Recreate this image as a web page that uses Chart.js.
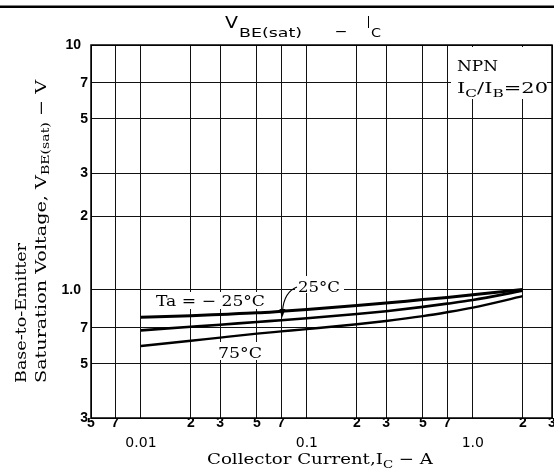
<!DOCTYPE html>
<html><head><meta charset="utf-8">
<script src="https://cdn.jsdelivr.net/npm/chart.js@4/dist/chart.umd.min.js"></script>
<style>html,body{margin:0;padding:0;background:#fff;}#wrap{width:554px;height:470px;}</style>
</head><body><div id="wrap"><canvas id="c" width="554" height="470"></canvas></div>
<script>
// ---- data ----
const currentA = [0.01, 0.02, 0.03, 0.05, 0.07, 0.1, 0.2, 0.3, 0.5, 0.7, 1.0, 2.0];
const vbeTaMinus25 = [0.774, 0.785, 0.794, 0.806, 0.818, 0.832, 0.863, 0.884, 0.913, 0.932, 0.955, 1.005];
const vbeTa25 = [0.684, 0.707, 0.721, 0.740, 0.752, 0.766, 0.797, 0.819, 0.853, 0.879, 0.910, 0.993];
const vbeTa75 = [0.590, 0.620, 0.639, 0.663, 0.677, 0.692, 0.724, 0.747, 0.782, 0.811, 0.847, 0.943];
const seriesNames = ['Ta = −25°C', '25°C', '75°C'];
const xTickValues = [0.005, 0.007, 0.01, 0.02, 0.03, 0.05, 0.07, 0.1, 0.2, 0.3, 0.5, 0.7, 1, 2, 3];
const xTickLabels = ['5', '7', ['', '', '0.01'], '2', '3', '5', '7', ['', '', '0.1'], '2', '3', '5', '7', ['', '', '1.0'], '2', '3'];
const yTickValues = [0.3, 0.5, 0.7, 1, 2, 3, 5, 7, 10];
const yTickLabels = ['3', '5', '7', '1.0\u2002', '2', '3', '5', '7', '10\u2002'];

const SERIF = '"DejaVu Serif", "Liberation Serif", serif';
const SANS = '"DejaVu Sans", "Liberation Sans", sans-serif';

function toPoints(ys) { return currentA.map((x, i) => ({ x: x, y: ys[i] })); }

function drawRich(ctx, segs, x, y, targetW) {
  let w = 0;
  for (const s of segs) { ctx.font = s.font; w += ctx.measureText(s.t).width; }
  const sx = targetW ? targetW / w : 1;
  ctx.save();
  ctx.translate(x, y); ctx.scale(sx, 1);
  ctx.textAlign = 'left'; ctx.textBaseline = 'alphabetic'; ctx.fillStyle = '#000';
  let cx = 0;
  for (const s of segs) { ctx.font = s.font; ctx.fillText(s.t, cx, s.dy || 0); cx += ctx.measureText(s.t).width; }
  ctx.restore();
}

const annot = {
  id: 'annot',
  beforeDraw(chart) {
    const ctx = chart.ctx;
    ctx.save(); ctx.fillStyle = '#fff'; ctx.fillRect(0, 0, chart.width, chart.height);
    ctx.fillStyle = '#000'; ctx.fillRect(0, 5.5, chart.width, 2.5);
    ctx.restore();
    // title
    drawRich(ctx, [{ t: 'V', font: '15px ' + SANS }], 225, 28, 13);
    drawRich(ctx, [{ t: 'BE(sat)', font: '12px ' + SANS }], 239, 37, 63);
    drawRich(ctx, [{ t: '–', font: '15px ' + SANS }], 335, 36, 12);
    drawRich(ctx, [{ t: 'I', font: '15px ' + SANS }], 367, 28, 3);
    drawRich(ctx, [{ t: 'C', font: '12px ' + SANS }], 371, 37, 10);
    // y title
    ctx.save(); ctx.translate(26, 383); ctx.rotate(-Math.PI / 2);
    drawRich(ctx, [{ t: 'Base-to-Emitter', font: '15px ' + SERIF }], 0, 0, 140);
    ctx.restore();
    ctx.save(); ctx.translate(46, 383); ctx.rotate(-Math.PI / 2);
    drawRich(ctx, [{ t: 'Saturation Voltage, V', font: '15px ' + SERIF }, { t: 'BE(sat)', font: '11px ' + SERIF, dy: 3 }, { t: ' − V', font: '15px ' + SERIF }], 0, 0, 303);
    ctx.restore();
    // x title
    drawRich(ctx, [{ t: 'Collector Current,I', font: '15px ' + SERIF }, { t: 'C', font: '11px ' + SERIF, dy: 4 }, { t: ' − A', font: '15px ' + SERIF }], 207, 464, 226);
  },
  beforeDatasetsDraw(chart) {
    const ctx = chart.ctx;
    ctx.save(); ctx.fillStyle = '#fff';
    ctx.fillRect(152, 292, 116, 17);
    ctx.fillRect(295, 276, 49, 17);
    ctx.fillRect(215, 342, 50, 18);
    ctx.fillRect(451, 47, 96, 52);
    ctx.restore();
    drawRich(ctx, [{ t: 'Ta = − 25°C', font: '15px ' + SERIF }], 156, 306, 109);
    drawRich(ctx, [{ t: '25°C', font: '15px ' + SERIF }], 298, 292, 42);
    drawRich(ctx, [{ t: '75°C', font: '15px ' + SERIF }], 218, 358, 44);
    drawRich(ctx, [{ t: 'NPN', font: '15px ' + SERIF }], 457, 71, 41);
    drawRich(ctx, [{ t: 'I', font: '15px ' + SERIF }, { t: 'C', font: '11px ' + SERIF, dy: 4 }, { t: '/I', font: '15px ' + SERIF }, { t: 'B', font: '11px ' + SERIF, dy: 4 }, { t: '=20', font: '15px ' + SERIF }], 457, 93, 91);
  },
  afterDatasetsDraw(chart) {
    const ctx = chart.ctx, a = chart.chartArea;
    ctx.save();
    ctx.strokeStyle = '#000'; ctx.lineWidth = 1.5;
    ctx.strokeRect(a.left, a.top, a.right - a.left, a.bottom - a.top);
    // arrow
    ctx.lineWidth = 1.2;
    ctx.beginPath(); ctx.moveTo(297, 287); ctx.quadraticCurveTo(284, 292, 282.5, 311); ctx.stroke();
    ctx.fillStyle = '#000';
    ctx.beginPath(); ctx.moveTo(279.5, 309); ctx.lineTo(285.5, 309); ctx.lineTo(282, 318); ctx.closePath(); ctx.fill();
    ctx.restore();
  }
};

new Chart(document.getElementById('c'), {
  type: 'line',
  data: {
    datasets: [
      { label: seriesNames[0], data: toPoints(vbeTaMinus25), borderWidth: 3 },
      { label: seriesNames[1], data: toPoints(vbeTa25), borderWidth: 2.6 },
      { label: seriesNames[2], data: toPoints(vbeTa75), borderWidth: 2.4 }
    ].map(d => Object.assign(d, { borderColor: '#000', backgroundColor: '#000', pointRadius: 0, tension: 0.4, cubicInterpolationMode: 'monotone', fill: false }))
  },
  options: {
    responsive: false, animation: false, devicePixelRatio: 1,
    layout: { padding: { top: 45, right: 2, left: 0, bottom: 0 } },
    plugins: { legend: { display: false }, title: { display: false }, tooltip: { enabled: false } },
    scales: {
      x: {
        type: 'logarithmic', min: 0.005, max: 3,
        afterBuildTicks: s => { s.ticks = xTickValues.map(v => ({ value: v })); },
        afterFit: s => { s.height = 52; s.paddingLeft = 0; s.paddingRight = 0; },
        grid: { color: '#111', lineWidth: 1, drawTicks: false },
        border: { display: false },
        ticks: {
          autoSkip: false, maxRotation: 0, minRotation: 0, padding: 0, color: '#000',
          callback: (v, i) => xTickLabels[i],
          font: c => (Array.isArray(xTickLabels[c.index])
            ? { family: '"DejaVu Sans", sans-serif', size: 14, weight: 'normal', lineHeight: '10px' }
            : { family: '"Liberation Sans", Arial, sans-serif', size: 14, weight: 'bold', lineHeight: '10px' })
        }
      },
      y: {
        type: 'logarithmic', min: 0.3, max: 10,
        afterBuildTicks: s => { s.ticks = yTickValues.map(v => ({ value: v })); },
        afterFit: s => { s.width = 91; s.paddingTop = 0; s.paddingBottom = 0; },
        grid: { color: '#111', lineWidth: 1, drawTicks: false },
        border: { display: false },
        ticks: {
          autoSkip: false, padding: 3, color: '#000',
          callback: (v, i) => yTickLabels[i],
          font: { family: '"Liberation Sans", Arial, sans-serif', size: 14, weight: 'bold' }
        }
      }
    }
  },
  plugins: [annot]
});
</script>
</body></html>
